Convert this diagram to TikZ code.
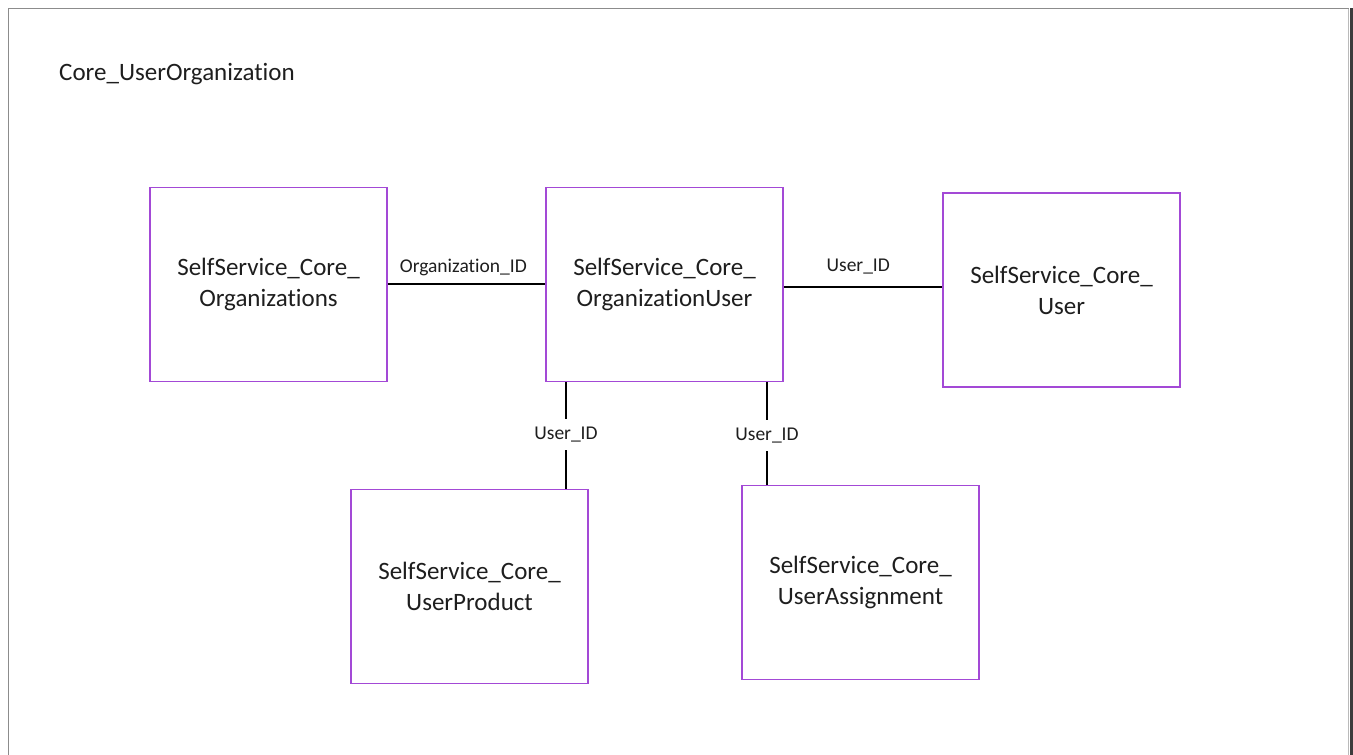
\documentclass[tikz,border=0pt]{standalone}
\usepackage{fontspec}
\setmainfont{Carlito}[Ligatures={NoCommon}]
\definecolor{boxpurple}{RGB}{163,73,214}
\definecolor{txt}{RGB}{30,30,30}
\definecolor{framegray}{RGB}{140,140,140}
\definecolor{shadowgray}{RGB}{60,60,60}
\begin{document}
\begin{tikzpicture}[x=1pt,y=-1pt,
  entity/.style={draw=boxpurple, line width=1.7pt, minimum width=237pt, minimum height=194pt,
    align=center, text=txt, font=\fontsize{25}{31}\selectfont, inner sep=0pt},
  conn/.style={draw=black, line width=1.3pt},
  lab/.style={text=txt, font=\fontsize{19.5}{22}\selectfont, inner sep=0pt},
  vlab/.style={lab, fill=white, inner xsep=2pt, inner ysep=8pt}]
\useasboundingbox (0,0) rectangle (1353,755);
% frame
\draw[framegray, line width=1.2pt] (8.5,755) -- (8.5,8.5) -- (1348.5,8.5);
\draw[framegray!60, line width=1pt] (1348.5,8.5) -- (1348.5,755);
\fill[shadowgray] (1349.5,8) rectangle (1353,755);
% title
\node[anchor=base west, text=txt, font=\fontsize{25}{30}\selectfont, inner sep=0pt] (title) at (59,80) {Core\_UserOrganization};
% entities
\node[entity] (org) at (268.5,284.5) {SelfService\_Core\_\\Organizations};
\node[entity] (ou) at (664.5,284.5) {SelfService\_Core\_\\OrganizationUser};
\node[entity] (usr) at (1061.5,290) {SelfService\_Core\_\\User};
\node[entity] (up) at (469.5,586.5) {SelfService\_Core\_\\UserProduct};
\node[entity] (ua) at (860.5,582.5) {SelfService\_Core\_\\UserAssignment};
% helper coordinates
\coordinate (h1) at (0,284);
\coordinate (h2) at (0,287);
\coordinate (v1) at (566,0);
\coordinate (v2) at (767,0);
% connectors
\draw[conn] (org.east |- h1) -- node[lab, pos=0.48, yshift=17pt] (l1) {Organization\_ID} (ou.west |- h1);
\draw[conn] (ou.east |- h2) -- node[lab, pos=0.47, yshift=20pt] (l2) {User\_ID} (usr.west |- h2);
\draw[conn] (ou.south -| v1) -- node[vlab, pos=0.49] (l3) {User\_ID} (up.north -| v1);
\draw[conn] (ou.south -| v2) -- node[vlab, pos=0.52] (l4) {User\_ID} (ua.north -| v2);
\end{tikzpicture}
\end{document}
